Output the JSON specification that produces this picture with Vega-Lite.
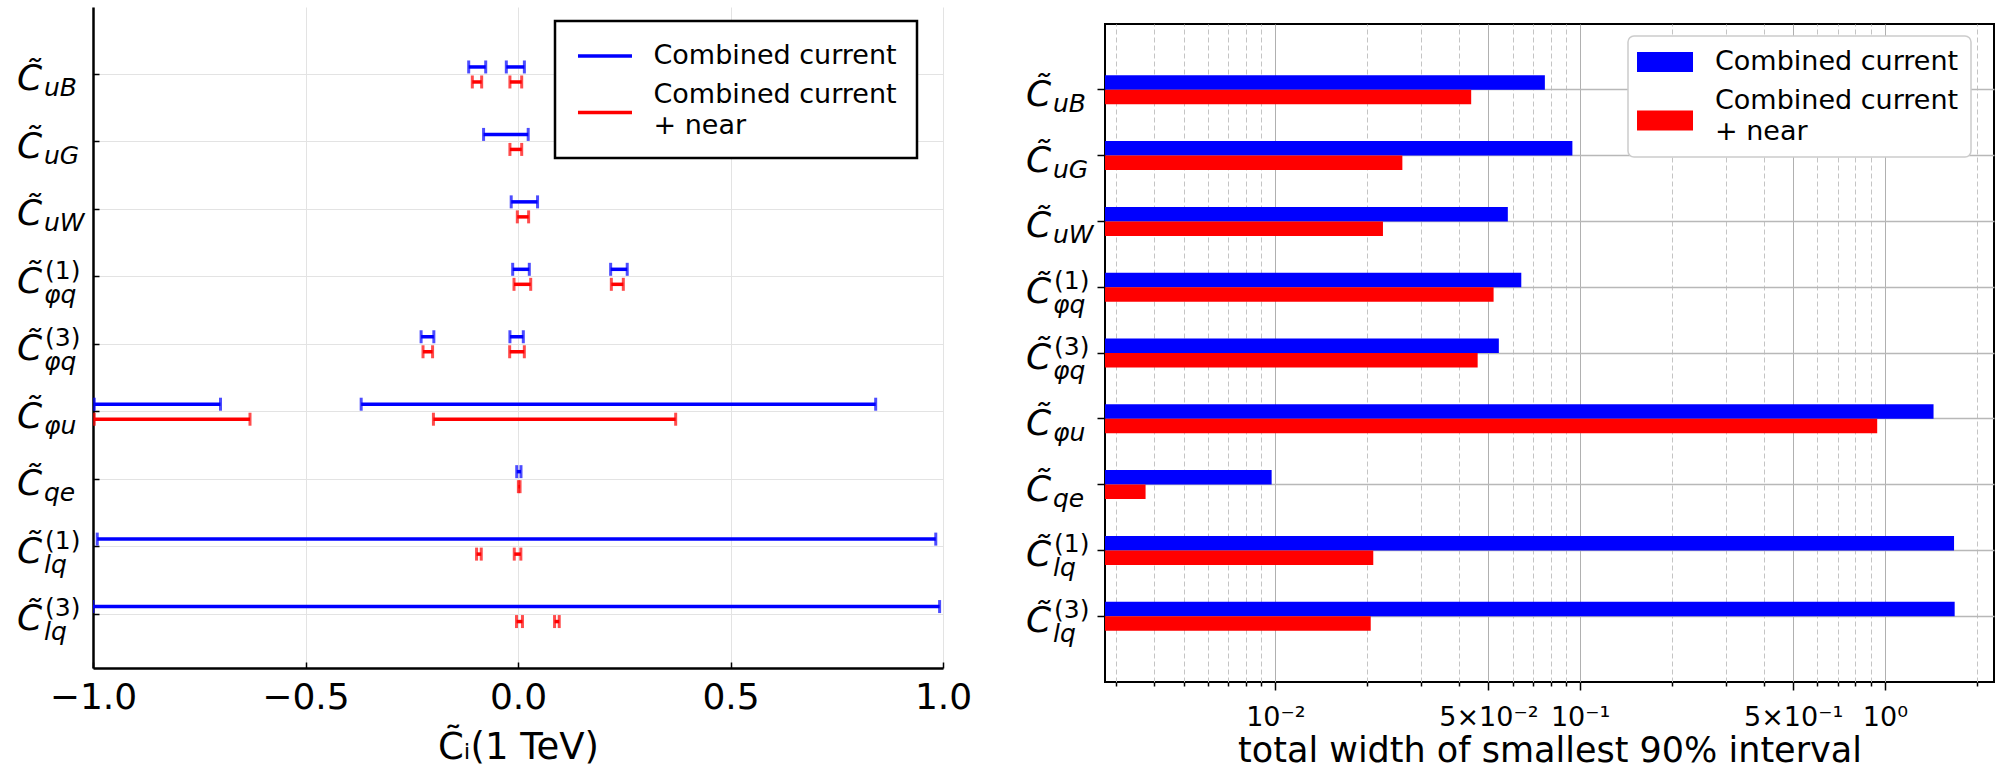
{
  "$schema": "https://vega.github.io/schema/vega-lite/v6.json",
  "background": "white",
  "padding": {"left": 17, "top": 6, "right": 0, "bottom": 0},
  "config": {
    "font": "DejaVu Sans",
    "view": {"stroke": null},
    "text": {"font": "DejaVu Sans", "color": "black"}
  },
  "datasets": {
    "coefs": [
      {"coef": "uB", "sub": "uB", "sup": ""},
      {"coef": "uG", "sub": "uG", "sup": ""},
      {"coef": "uW", "sub": "uW", "sup": ""},
      {"coef": "phiq1", "sub": "φq", "sup": "(1)"},
      {"coef": "phiq3", "sub": "φq", "sup": "(3)"},
      {"coef": "phiu", "sub": "φu", "sup": ""},
      {"coef": "qe", "sub": "qe", "sup": ""},
      {"coef": "lq1", "sub": "lq", "sup": "(1)"},
      {"coef": "lq3", "sub": "lq", "sup": "(3)"}
    ],
    "intervals": [
      {"coef": "uB", "series": "Combined current", "lo": -0.116, "hi": -0.076},
      {"coef": "uB", "series": "Combined current", "lo": -0.0275, "hi": 0.015},
      {"coef": "uB", "series": "Combined current + near", "lo": -0.1075, "hi": -0.0855},
      {"coef": "uB", "series": "Combined current + near", "lo": -0.019, "hi": 0.0087},
      {"coef": "uG", "series": "Combined current", "lo": -0.081, "hi": 0.024},
      {"coef": "uG", "series": "Combined current + near", "lo": -0.019, "hi": 0.0087},
      {"coef": "uW", "series": "Combined current", "lo": -0.016, "hi": 0.046},
      {"coef": "uW", "series": "Combined current + near", "lo": -0.0016, "hi": 0.025},
      {"coef": "phiq1", "series": "Combined current", "lo": -0.0125, "hi": 0.0266},
      {"coef": "phiq1", "series": "Combined current", "lo": 0.218, "hi": 0.257},
      {"coef": "phiq1", "series": "Combined current + near", "lo": -0.0094, "hi": 0.0299},
      {"coef": "phiq1", "series": "Combined current + near", "lo": 0.2196, "hi": 0.2478},
      {"coef": "phiq3", "series": "Combined current", "lo": -0.228, "hi": -0.198},
      {"coef": "phiq3", "series": "Combined current", "lo": -0.019, "hi": 0.0125},
      {"coef": "phiq3", "series": "Combined current + near", "lo": -0.2235, "hi": -0.201},
      {"coef": "phiq3", "series": "Combined current + near", "lo": -0.0196, "hi": 0.0149},
      {"coef": "phiu", "series": "Combined current", "lo": -0.997, "hi": -0.7},
      {"coef": "phiu", "series": "Combined current", "lo": -0.369, "hi": 0.8416},
      {"coef": "phiu", "series": "Combined current + near", "lo": -0.997, "hi": -0.6306},
      {"coef": "phiu", "series": "Combined current + near", "lo": -0.199, "hi": 0.371},
      {"coef": "qe", "series": "Combined current", "lo": -0.003, "hi": 0.007},
      {"coef": "qe", "series": "Combined current + near", "lo": 0.0009, "hi": 0.0048},
      {"coef": "lq1", "series": "Combined current", "lo": -0.99, "hi": 0.983},
      {"coef": "lq1", "series": "Combined current + near", "lo": -0.0975, "hi": -0.0865},
      {"coef": "lq1", "series": "Combined current + near", "lo": -0.0088, "hi": 0.0067},
      {"coef": "lq3", "series": "Combined current", "lo": -1.0, "hi": 0.992},
      {"coef": "lq3", "series": "Combined current + near", "lo": -0.0035, "hi": 0.0105},
      {"coef": "lq3", "series": "Combined current + near", "lo": 0.086, "hi": 0.097}
    ],
    "widths": [
      {"coef": "uB", "series": "Combined current", "width": 0.0766},
      {"coef": "uB", "series": "Combined current + near", "width": 0.0439},
      {"coef": "uG", "series": "Combined current", "width": 0.0943},
      {"coef": "uG", "series": "Combined current + near", "width": 0.0261},
      {"coef": "uW", "series": "Combined current", "width": 0.0579},
      {"coef": "uW", "series": "Combined current + near", "width": 0.02254},
      {"coef": "phiq1", "series": "Combined current", "width": 0.0641},
      {"coef": "phiq1", "series": "Combined current + near", "width": 0.052},
      {"coef": "phiq3", "series": "Combined current", "width": 0.0541},
      {"coef": "phiq3", "series": "Combined current + near", "width": 0.0461},
      {"coef": "phiu", "series": "Combined current", "width": 1.444},
      {"coef": "phiu", "series": "Combined current + near", "width": 0.9434},
      {"coef": "qe", "series": "Combined current", "width": 0.00972},
      {"coef": "qe", "series": "Combined current + near", "width": 0.00375},
      {"coef": "lq1", "series": "Combined current", "width": 1.686},
      {"coef": "lq1", "series": "Combined current + near", "width": 0.02095},
      {"coef": "lq3", "series": "Combined current", "width": 1.694},
      {"coef": "lq3", "series": "Combined current + near", "width": 0.02055}
    ]
  },
  "resolve": {
    "scale": {"color": "independent", "x": "independent", "y": "independent", "yOffset": "independent"},
    "legend": {"color": "independent"}
  },
  "spacing": 53,
  "hconcat": [
    {
      "width": 850,
      "height": 661,
      "encoding": {
        "y": {
          "field": "coef", "type": "nominal",
          "scale": {"domain": ["uB", "uG", "uW", "phiq1", "phiq3", "phiu", "qe", "lq1", "lq3"], "paddingInner": 0.555, "paddingOuter": 0.6775, "align": 0.574},
          "axis": {"labels": false, "title": null, "grid": true, "gridColor": "#e3e3e3", "gridWidth": 1, "tickSize": -6, "tickColor": "black", "tickWidth": 1.5, "domainColor": "black", "domainWidth": 2.5}
        }
      },
      "layer": [
        {
          "data": {"name": "intervals"},
          "mark": {"type": "rule", "strokeWidth": 3.5, "clip": true},
          "encoding": {
            "x": {
              "field": "lo", "type": "quantitative", "title": "C̃ᵢ(1 TeV)",
              "scale": {"domain": [-1, 1], "nice": false, "zero": false},
              "axis": {"values": [-1, -0.5, 0, 0.5, 1], "format": ".1f", "labelFontSize": 36, "labelColor": "black", "labelPadding": 18.5, "tickSize": -6, "tickColor": "black", "tickWidth": 1.5, "grid": true, "gridColor": "#e3e3e3", "gridWidth": 1, "domainColor": "black", "domainWidth": 2.5, "titleFontSize": 37, "titleFontWeight": "normal", "titleColor": "black", "titlePadding": 14, "labelFlush": false}
            },
            "x2": {"field": "hi"},
            "yOffset": {"field": "series", "type": "nominal", "scale": {"domain": ["Combined current", "Combined current + near"], "paddingInner": 0, "paddingOuter": 0}},
            "color": {
              "field": "series", "type": "nominal",
              "scale": {"domain": ["Combined current", "Combined current + near"], "range": ["#0000ff", "#ff0000"]},
              "legend": {
                "title": null, "orient": "none", "legendX": 462, "legendY": 14,
                "symbolType": "M-0.89,0H3.11", "symbolSize": 729, "symbolStrokeWidth": 3.5,
                "labelFontSize": 27, "labelColor": "black", "labelOffset": 48, "labelLimit": 400,
                "labelExpr": "datum.value == 'Combined current + near' ? ['Combined current', '+ near'] : datum.value",
                "strokeColor": "black", "fillColor": "white", "cornerRadius": 0, "padding": 19.5, "rowPadding": 9.5,
                "encode": {
                  "legend": {"update": {"strokeWidth": {"value": 2.5}}},
                  "labels": {"update": {"lineHeight": {"value": 31}}},
                  "symbols": {"update": {"shape": {"signal": "datum.value == 'Combined current + near' ? 'M-0.89,1.33H3.11' : 'M-0.89,0H3.11'"}}}
                }
              }
            }
          }
        },
        {
          "data": {"name": "intervals"},
          "mark": {"type": "tick", "orient": "vertical", "thickness": 3, "size": 13, "clip": true},
          "encoding": {
            "x": {"field": "lo", "type": "quantitative", "title": "C̃ᵢ(1 TeV)"},
            "yOffset": {"field": "series", "type": "nominal"},
            "color": {"field": "series", "type": "nominal"}
          }
        },
        {
          "data": {"name": "intervals"},
          "mark": {"type": "tick", "orient": "vertical", "thickness": 3, "size": 13, "clip": true},
          "encoding": {
            "x": {"field": "hi", "type": "quantitative", "title": "C̃ᵢ(1 TeV)"},
            "yOffset": {"field": "series", "type": "nominal"},
            "color": {"field": "series", "type": "nominal"}
          }
        },
        {
          "data": {"name": "coefs"},
          "mark": {"type": "text", "text": "C̃", "align": "left", "baseline": "alphabetic", "dx": -76, "dy": 16, "fontSize": 36, "fontStyle": "italic"},
          "encoding": {"x": {"datum": -1}}
        },
        {
          "data": {"name": "coefs"},
          "transform": [{"filter": "datum.sup == ''"}],
          "mark": {"type": "text", "align": "left", "baseline": "alphabetic", "dx": -49, "dy": 22, "fontSize": 25, "fontStyle": "italic"},
          "encoding": {"x": {"datum": -1}, "text": {"field": "sub"}}
        },
        {
          "data": {"name": "coefs"},
          "transform": [{"filter": "datum.sup != ''"}],
          "mark": {"type": "text", "align": "left", "baseline": "alphabetic", "dx": -49, "dy": 26, "fontSize": 25, "fontStyle": "italic"},
          "encoding": {"x": {"datum": -1}, "text": {"field": "sub"}}
        },
        {
          "data": {"name": "coefs"},
          "transform": [{"filter": "datum.sup != ''"}],
          "mark": {"type": "text", "align": "left", "baseline": "alphabetic", "dx": -48, "dy": 2, "fontSize": 25},
          "encoding": {"x": {"datum": -1}, "text": {"field": "sup"}}
        }
      ]
    },
    {
      "spacing": 15,
      "resolve": {"scale": {"color": "independent"}, "legend": {"color": "independent"}},
      "vconcat": [
        {
          "width": 889,
          "height": 1,
          "data": {"values": [{"blank": ""}]},
          "mark": {"type": "text", "opacity": 0, "fontSize": 1},
          "encoding": {"text": {"field": "blank"}}
        },
        {
          "width": 889,
          "height": 658,
          "view": {"stroke": "black", "strokeWidth": 2},
          "encoding": {
            "y": {
              "field": "coef", "type": "nominal",
              "scale": {"domain": ["uB", "uG", "uW", "phiq1", "phiq3", "phiu", "qe", "lq1", "lq3"], "paddingInner": 0.56, "paddingOuter": 0.78},
              "axis": {"labels": false, "title": null, "grid": true, "gridColor": "#b8b8b8", "gridWidth": 1.5, "tickSize": 8, "tickColor": "black", "tickWidth": 1.5, "domain": false}
            }
          },
          "layer": [
            {
              "data": {"name": "widths"},
              "mark": {"type": "bar"},
              "encoding": {
                "x": {
                  "field": "width", "type": "quantitative", "title": "total width of smallest 90% interval",
                  "scale": {"type": "log", "domain": [0.00276, 2.28], "nice": false},
                  "axis": {
                    "values": [0.003, 0.004, 0.005, 0.006, 0.007, 0.008, 0.009, 0.01, 0.02, 0.03, 0.04, 0.05, 0.06, 0.07, 0.08, 0.09, 0.1, 0.2, 0.3, 0.4, 0.5, 0.6, 0.7, 0.8, 0.9, 1, 2],
                    "labelExpr": "datum.value == 0.01 ? '10⁻²' : datum.value == 0.05 ? '5×10⁻²' : datum.value == 0.1 ? '10⁻¹' : datum.value == 0.5 ? '5×10⁻¹' : datum.value == 1 ? '10⁰' : ''",
                    "labelFontSize": 27, "labelColor": "black", "labelOverlap": false, "labelPadding": 14, "labelFlush": false,
                    "tickSize": {"condition": {"test": "indexof([0.01, 0.05, 0.1, 0.5, 1], datum.value) >= 0", "value": 8}, "value": 4},
                    "tickColor": "black", "tickWidth": 1.5,
                    "grid": true,
                    "gridColor": {"condition": {"test": "indexof([0.01, 0.05, 0.1, 0.5, 1], datum.value) >= 0", "value": "#b0b0b0"}, "value": "#c4c4c4"},
                    "gridDash": {"condition": {"test": "indexof([0.01, 0.05, 0.1, 0.5, 1], datum.value) >= 0", "value": []}, "value": [5, 3]},
                    "gridWidth": 1,
                    "domain": false,
                    "titleFontSize": 35, "titleFontWeight": "normal", "titleColor": "black", "titlePadding": 3
                  }
                },
                "x2": {"datum": 0.00276},
                "yOffset": {"field": "series", "type": "nominal", "scale": {"domain": ["Combined current", "Combined current + near"], "paddingInner": 0, "paddingOuter": 0}},
                "color": {
                  "field": "series", "type": "nominal",
                  "scale": {"domain": ["Combined current", "Combined current + near"], "range": ["#0000ff", "#ff0000"]},
                  "legend": {
                    "title": null, "orient": "none", "legendX": 523, "legendY": 12,
                    "symbolType": "M-1.214,-0.714H2.786V0.714H-1.214Z", "symbolSize": 784, "symbolStrokeWidth": 0, "symbolOpacity": 1,
                    "labelFontSize": 27, "labelColor": "black", "labelOffset": 47, "labelLimit": 400,
                    "labelExpr": "datum.value == 'Combined current + near' ? ['Combined current', '+ near'] : datum.value",
                    "strokeColor": "#cccccc", "fillColor": "white", "cornerRadius": 6, "padding": 12, "rowPadding": 11.5,
                    "encode": {
                      "legend": {"update": {"strokeWidth": {"value": 1.5}}},
                      "labels": {"update": {"lineHeight": {"value": 31}}},
                      "symbols": {"update": {"shape": {"signal": "datum.value == 'Combined current + near' ? 'M-1.214,0.72H2.786V2.148H-1.214Z' : 'M-1.214,-0.714H2.786V0.714H-1.214Z'"}}}
                    }
                  }
                }
              }
            },
            {
              "data": {"name": "coefs"},
              "mark": {"type": "text", "text": "C̃", "align": "left", "baseline": "alphabetic", "dx": -79, "dy": 16, "fontSize": 36, "fontStyle": "italic"},
              "encoding": {"x": {"datum": 0.00276}}
            },
            {
              "data": {"name": "coefs"},
              "transform": [{"filter": "datum.sup == ''"}],
              "mark": {"type": "text", "align": "left", "baseline": "alphabetic", "dx": -52, "dy": 22, "fontSize": 25, "fontStyle": "italic"},
              "encoding": {"x": {"datum": 0.00276}, "text": {"field": "sub"}}
            },
            {
              "data": {"name": "coefs"},
              "transform": [{"filter": "datum.sup != ''"}],
              "mark": {"type": "text", "align": "left", "baseline": "alphabetic", "dx": -52, "dy": 26, "fontSize": 25, "fontStyle": "italic"},
              "encoding": {"x": {"datum": 0.00276}, "text": {"field": "sub"}}
            },
            {
              "data": {"name": "coefs"},
              "transform": [{"filter": "datum.sup != ''"}],
              "mark": {"type": "text", "align": "left", "baseline": "alphabetic", "dx": -51, "dy": 2, "fontSize": 25},
              "encoding": {"x": {"datum": 0.00276}, "text": {"field": "sup"}}
            }
          ]
        }
      ]
    }
  ]
}
